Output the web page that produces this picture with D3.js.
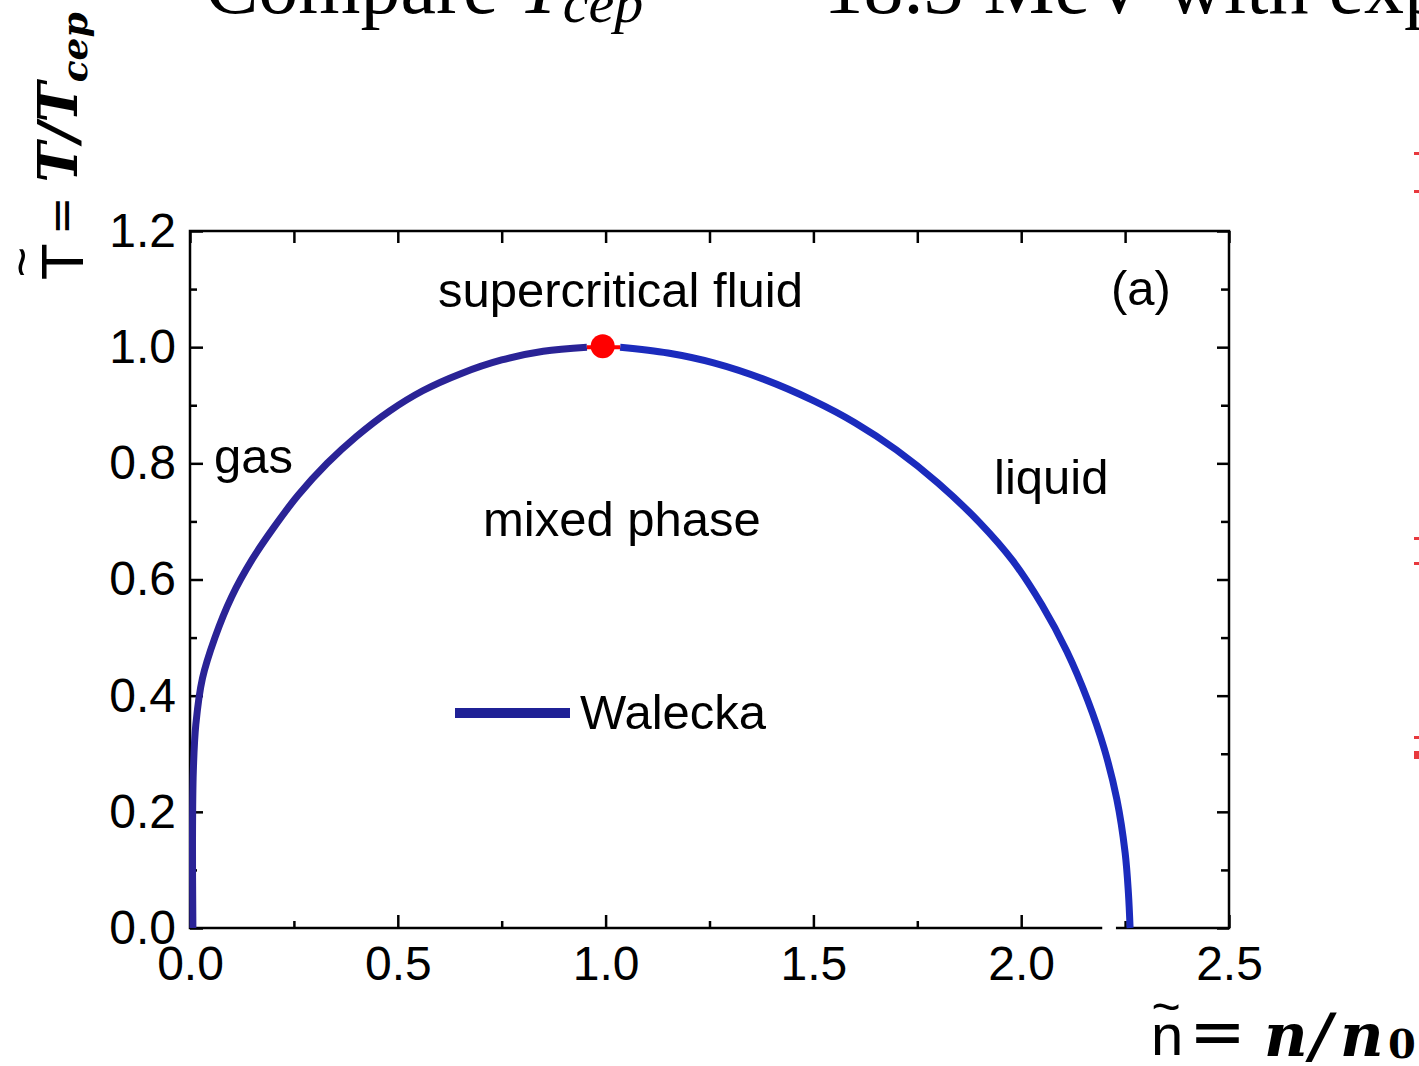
<!DOCTYPE html>
<html>
<head>
<meta charset="utf-8">
<script src="https://cdn.jsdelivr.net/npm/d3@7"></script>
<style>
  body { margin: 0; background: #fff; }
  svg { display: block; }
  .tick text { font-family: "Liberation Sans", Arial, sans-serif; font-size: 48px; fill: #000; }
  .lbl { font-family: "Liberation Sans", Arial, sans-serif; font-size: 49px; fill: #000; }
  .math { font-family: "DejaVu Serif", serif; font-weight: bold; font-style: italic; }
</style>
</head>
<body>
<div id="chart"></div>
<script>
// coexistence curve, Walecka model
let gas_n = [0.007, 0.006, 0.008, 0.014, 0.03, 0.06, 0.1, 0.15, 0.2, 0.26, 0.33, 0.4, 0.48, 0.56, 0.65, 0.75, 0.85, 0.955];
let gas_T = [0.0, 0.15, 0.27, 0.35, 0.43, 0.5, 0.57, 0.635, 0.688, 0.745, 0.8, 0.846, 0.89, 0.925, 0.954, 0.978, 0.993, 1.0];
let liq_n = [1.035, 1.15, 1.26, 1.38, 1.5, 1.6, 1.7, 1.8, 1.9, 1.98, 2.05, 2.11, 2.16, 2.2, 2.23, 2.25, 2.258, 2.262];
let liq_T = [1.0, 0.99, 0.973, 0.945, 0.908, 0.87, 0.823, 0.766, 0.698, 0.632, 0.556, 0.476, 0.392, 0.308, 0.222, 0.13, 0.06, 0.0];
let cep = { n: 0.993, T: 1.0 };

let x_major = [0, 0.5, 1.0, 1.5, 2.0, 2.5];
let x_minor = [0.25, 0.75, 1.25, 1.75, 2.25];
let y_major = [0, 0.2, 0.4, 0.6, 0.8, 1.0, 1.2];
let y_minor = [0.1, 0.3, 0.5, 0.7, 0.9, 1.1];

let width = 1419;
let height = 1066;
let plot = { left: 190, right: 1229, top: 231, bottom: 928 };

let x = d3.scaleLinear().domain([0, 2.5]).range([plot.left, plot.right]);
let y = d3.scaleLinear().domain([0, 1.2]).range([plot.bottom, plot.top]);

let fmt = d3.format(".1f");

let svg = d3.select("#chart")
	.append("svg")
	.attr("width", width)
	.attr("height", height);

// title of the slide, mostly cut off at the top
let title = svg.append("text")
	.attr("x", 205)
	.attr("y", 13)
	.style("font-family", "'Liberation Serif', 'Times New Roman', serif")
	.style("font-size", "80px");
title.append("tspan").text("Compare ");
title.append("tspan").style("font-style", "italic").text("T");
title.append("tspan").style("font-style", "italic").style("font-size", "58px").attr("dy", 9).text("cep");
title.append("tspan").attr("dy", -9).attr("dx", 45).text("= ");
title.append("tspan").attr("dx", 70).text("18.3 MeV with experiment");

// axes: inward ticks on all four sides
let bottom = svg.append("g")
	.attr("transform", "translate(0," + plot.bottom + ")");
bottom.call(d3.axisBottom(x).tickValues(x_major).tickFormat(fmt).tickSizeInner(-13).tickSizeOuter(0).tickPadding(18));
bottom.append("g").call(d3.axisBottom(x).tickValues(x_minor).tickFormat("").tickSizeInner(-7).tickSizeOuter(0));

let left = svg.append("g")
	.attr("transform", "translate(" + plot.left + ",0)");
left.call(d3.axisLeft(y).tickValues(y_major).tickFormat(fmt).tickSizeInner(-13).tickSizeOuter(0).tickPadding(14));
left.append("g").call(d3.axisLeft(y).tickValues(y_minor).tickFormat("").tickSizeInner(-7).tickSizeOuter(0));

let top_ax = svg.append("g")
	.attr("transform", "translate(0," + plot.top + ")");
top_ax.call(d3.axisTop(x).tickValues(x_major).tickFormat("").tickSizeInner(-12).tickSizeOuter(0));
top_ax.append("g").call(d3.axisTop(x).tickValues(x_minor).tickFormat("").tickSizeInner(-12).tickSizeOuter(0));

let right_ax = svg.append("g")
	.attr("transform", "translate(" + plot.right + ",0)");
right_ax.call(d3.axisRight(y).tickValues(y_major).tickFormat("").tickSizeInner(-12).tickSizeOuter(0));
right_ax.append("g").call(d3.axisRight(y).tickValues(y_minor).tickFormat("").tickSizeInner(-8).tickSizeOuter(0));

svg.selectAll(".domain").remove();
svg.selectAll(".tick line").attr("stroke", "#000").attr("stroke-width", 2.5);

svg.append("rect")
	.attr("x", plot.left)
	.attr("y", plot.top)
	.attr("width", plot.right - plot.left)
	.attr("height", plot.bottom - plot.top)
	.attr("fill", "none")
	.attr("stroke", "#000")
	.attr("stroke-width", 2.5);

// small break in the bottom frame line as in the original
svg.append("line")
	.attr("x1", x(2.195)).attr("x2", x(2.228))
	.attr("y1", plot.bottom).attr("y2", plot.bottom)
	.attr("stroke", "#fff").attr("stroke-width", 4);

// curve
let line = d3.line()
	.x((d) => x(d[0]))
	.y((d) => y(d[1]))
	.curve(d3.curveCatmullRom.alpha(0.5));

svg.append("path")
	.datum(d3.zip(gas_n, gas_T))
	.attr("d", line)
	.attr("fill", "none")
	.attr("stroke", "#2a2396")
	.attr("stroke-width", 7)
	.attr("stroke-linecap", "butt");

svg.append("path")
	.datum(d3.zip(liq_n, liq_T))
	.attr("d", line)
	.attr("fill", "none")
	.attr("stroke", "#1b2bbd")
	.attr("stroke-width", 7)
	.attr("stroke-linecap", "butt");

// critical end point
svg.append("line")
	.attr("x1", x(gas_n[gas_n.length - 1])).attr("x2", x(liq_n[0]))
	.attr("y1", y(cep.T)).attr("y2", y(cep.T))
	.attr("stroke", "#ff0000").attr("stroke-width", 4);

svg.append("circle")
	.attr("cx", x(cep.n))
	.attr("cy", y(cep.T) - 1)
	.attr("r", 12)
	.attr("fill", "#ff0000");

// legend
svg.append("line")
	.attr("x1", 455).attr("x2", 570)
	.attr("y1", 713).attr("y2", 713)
	.attr("stroke", "#1f2196").attr("stroke-width", 10);
svg.append("text").attr("class", "lbl").attr("x", 580).attr("y", 729).text("Walecka");

// region labels
svg.append("text").attr("class", "lbl").attr("x", 438).attr("y", 307).text("supercritical fluid");
svg.append("text").attr("class", "lbl").attr("x", 1111).attr("y", 305).text("(a)");
svg.append("text").attr("class", "lbl").attr("x", 214).attr("y", 473).text("gas");
svg.append("text").attr("class", "lbl").attr("x", 994).attr("y", 494).text("liquid");
svg.append("text").attr("class", "lbl").attr("x", 483).attr("y", 536).text("mixed phase");

// y label, rotated
let ylab = svg.append("g").attr("transform", "translate(83,282) rotate(-90)");
ylab.append("text")
	.attr("x", 2).attr("y", 0)
	.style("font-family", "'Liberation Sans', Arial, sans-serif")
	.style("font-size", "60px")
	.text("T");
ylab.append("text")
	.attr("x", 20).attr("y", -44)
	.attr("text-anchor", "middle")
	.style("font-family", "'Liberation Sans', Arial, sans-serif")
	.style("font-size", "52px")
	.text("~");
let ylab_math = ylab.append("text")
	.attr("x", 47).attr("y", -6);
ylab_math.append("tspan")
	.style("font-family", "'DejaVu Sans', sans-serif")
	.style("font-size", "46px")
	.text("=");
ylab_math.append("tspan")
	.attr("class", "math")
	.attr("dx", 14)
	.style("font-size", "54px")
	.text("T/T");
ylab_math.append("tspan")
	.attr("class", "math")
	.attr("dy", 10)
	.style("font-size", "36px")
	.text("cep");

// x label
svg.append("text")
	.attr("x", 1151).attr("y", 1055)
	.style("font-family", "'Liberation Sans', Arial, sans-serif")
	.style("font-size", "58px")
	.text("n");
svg.append("text")
	.attr("x", 1166).attr("y", 1024)
	.attr("text-anchor", "middle")
	.style("font-family", "'Liberation Sans', Arial, sans-serif")
	.style("font-size", "50px")
	.text("~");
svg.append("text")
	.attr("x", 1189).attr("y", 1055)
	.style("font-family", "'DejaVu Sans', sans-serif")
	.style("font-size", "68px")
	.text("=");
let xlab = svg.append("text").attr("y", 1056);
xlab.append("tspan").attr("class", "math").attr("x", 1264).style("font-size", "60px").text("n");
xlab.append("tspan").attr("class", "math").attr("x", 1310).style("font-size", "60px").text("/");
xlab.append("tspan").attr("class", "math").attr("x", 1340).style("font-size", "60px").text("n");
xlab.append("tspan")
	.attr("x", 1388)
	.attr("dy", 2)
	.style("font-family", "'DejaVu Serif', serif")
	.style("font-weight", "bold")
	.style("font-size", "40px")
	.text("0");

// fragments of the neighbouring panel at the right edge
let edge_y = [153, 191, 538, 563, 737, 752];
svg.selectAll(".edge")
	.data(edge_y)
	.enter()
	.append("rect")
	.attr("x", 1414)
	.attr("y", (d) => d - 1)
	.attr("width", 5)
	.attr("height", (d, i) => (i === 5 ? 8 : 3))
	.attr("fill", "#e8383d");
</script>
</body>
</html>
